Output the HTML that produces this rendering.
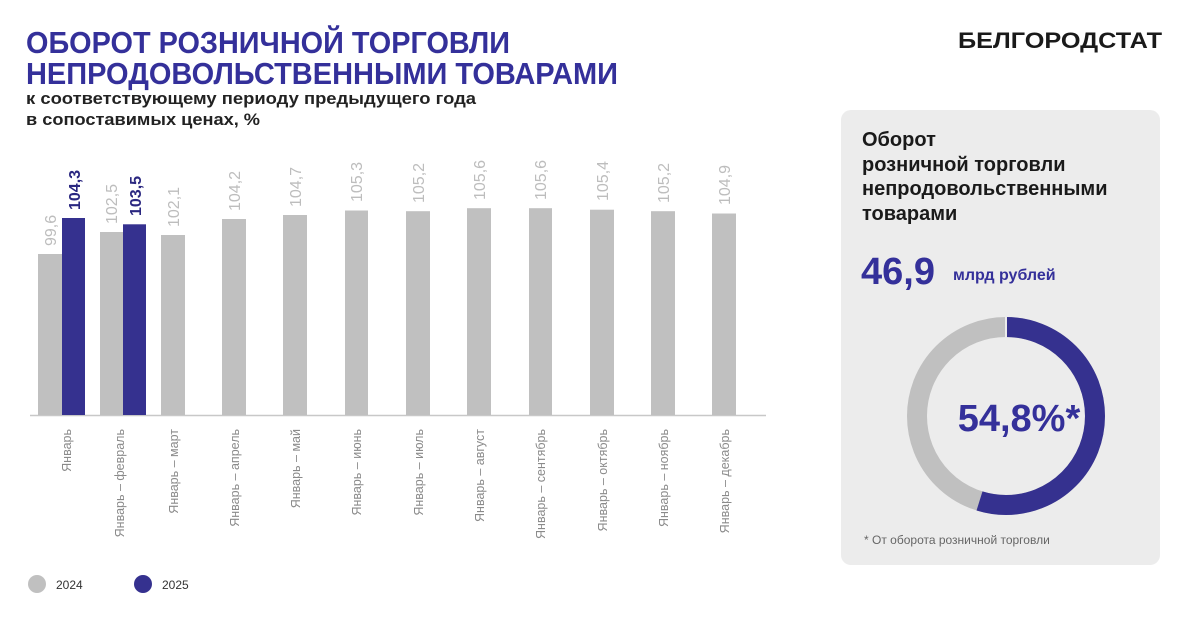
<!DOCTYPE html>
<html><head><meta charset="utf-8"><style>
html,body{margin:0;padding:0;background:#fff;}
svg{display:block;font-family:"Liberation Sans","Noto Sans CJK SC",sans-serif;}
</style></head><body>
<svg width="1184" height="634" viewBox="0 0 1184 634" xmlns="http://www.w3.org/2000/svg">
<rect width="1184" height="634" fill="#fff"/>
<text x="26" y="53" font-size="31" font-weight="bold" fill="#34309a" textLength="484" lengthAdjust="spacingAndGlyphs">ОБОРОТ РОЗНИЧНОЙ ТОРГОВЛИ</text>
<text x="26" y="84" font-size="31" font-weight="bold" fill="#34309a" textLength="592" lengthAdjust="spacingAndGlyphs">НЕПРОДОВОЛЬСТВЕННЫМИ ТОВАРАМИ</text>
<text x="26" y="104" font-size="17" font-weight="bold" fill="#222" textLength="450" lengthAdjust="spacingAndGlyphs">к соответствующему периоду предыдущего года</text>
<text x="26" y="125" font-size="17" font-weight="bold" fill="#222" textLength="234" lengthAdjust="spacingAndGlyphs">в сопоставимых ценах, %</text>
<text x="958" y="48" font-size="22" font-weight="bold" fill="#1a1a1a" textLength="204" lengthAdjust="spacingAndGlyphs">БЕЛГОРОДСТАТ</text>

<line x1="30" y1="415.5" x2="766" y2="415.5" stroke="#c8c8c8" stroke-width="1.5"/>
<g fill="#c0c0c0">
<rect x="38" y="254" width="24" height="161"/>
<rect x="100" y="232" width="23" height="183"/>
<rect x="161" y="235" width="24" height="180"/>
<rect x="222" y="219" width="24" height="196"/>
<rect x="283" y="215" width="24" height="200"/>
<rect x="345" y="210.5" width="23" height="204.5"/>
<rect x="406" y="211.2" width="24" height="203.8"/>
<rect x="467" y="208.2" width="24" height="206.8"/>
<rect x="529" y="208.2" width="23" height="206.8"/>
<rect x="590" y="209.7" width="24" height="205.3"/>
<rect x="651" y="211.2" width="24" height="203.8"/>
<rect x="712" y="213.5" width="24" height="201.5"/>
</g>
<g fill="#35318f">
<rect x="62" y="218" width="23" height="197"/>
<rect x="123" y="224.3" width="23" height="190.7"/>
</g>
<g font-size="16" fill="#bdbdbd" text-anchor="start">
<text transform="translate(56,246) rotate(-90)">99,6</text>
<text transform="translate(117,224) rotate(-90)">102,5</text>
<text transform="translate(179,227) rotate(-90)">102,1</text>
<text transform="translate(240,211) rotate(-90)">104,2</text>
<text transform="translate(301,207) rotate(-90)">104,7</text>
<text transform="translate(362,202) rotate(-90)">105,3</text>
<text transform="translate(424,203) rotate(-90)">105,2</text>
<text transform="translate(485,200) rotate(-90)">105,6</text>
<text transform="translate(546,200) rotate(-90)">105,6</text>
<text transform="translate(608,201) rotate(-90)">105,4</text>
<text transform="translate(669,203) rotate(-90)">105,2</text>
<text transform="translate(730,205) rotate(-90)">104,9</text>
</g>
<g font-size="16" font-weight="bold" fill="#2a2780">
<text transform="translate(80,210) rotate(-90)">104,3</text>
<text transform="translate(141,216) rotate(-90)">103,5</text>
</g>
<g font-size="12.5" fill="#8a8a8a" text-anchor="end">
<text transform="translate(71,429) rotate(-90)">Январь</text>
<text transform="translate(124,429) rotate(-90)">Январь – февраль</text>
<text transform="translate(178,429) rotate(-90)">Январь – март</text>
<text transform="translate(239,429) rotate(-90)">Январь – апрель</text>
<text transform="translate(300,429) rotate(-90)">Январь – май</text>
<text transform="translate(361,429) rotate(-90)">Январь – июнь</text>
<text transform="translate(423,429) rotate(-90)">Январь – июль</text>
<text transform="translate(484,429) rotate(-90)">Январь – август</text>
<text transform="translate(545,429) rotate(-90)">Январь – сентябрь</text>
<text transform="translate(607,429) rotate(-90)">Январь – октябрь</text>
<text transform="translate(668,429) rotate(-90)">Январь – ноябрь</text>
<text transform="translate(729,429) rotate(-90)">Январь – декабрь</text>
</g>
<circle cx="37" cy="584" r="9" fill="#c0c0c0"/>
<text x="56" y="589" font-size="12" fill="#333">2024</text>
<circle cx="143" cy="584" r="9" fill="#35318f"/>
<text x="162" y="589" font-size="12" fill="#333">2025</text>

<rect x="841" y="110" width="319" height="455" rx="10" fill="#ececec"/>
<g font-size="20" font-weight="bold" fill="#1a1a1a">
<text x="862" y="146">Оборот</text>
<text x="862" y="171">розничной торговли</text>
<text x="862" y="195">непродовольственными</text>
<text x="862" y="220">товарами</text>
</g>
<text x="861" y="284" font-size="38" font-weight="bold" fill="#34309a">46,9</text>
<text x="953" y="280" font-size="16" font-weight="bold" fill="#34309a">млрд рублей</text>
<circle cx="1006" cy="416" r="89" fill="none" stroke="#c0c0c0" stroke-width="20"/>
<circle cx="1006" cy="416" r="89" fill="none" stroke="#35318f" stroke-width="20" stroke-dasharray="306.4 600" transform="rotate(-90 1006 416)"/>
<line x1="1006" y1="316" x2="1006" y2="337" stroke="#ececec" stroke-width="2"/>
<text x="1019" y="431" font-size="38" font-weight="bold" fill="#34309a" text-anchor="middle">54,8%*</text>
<text x="864" y="544" font-size="12" fill="#666">* От оборота розничной торговли</text>
</svg>
</body></html>
